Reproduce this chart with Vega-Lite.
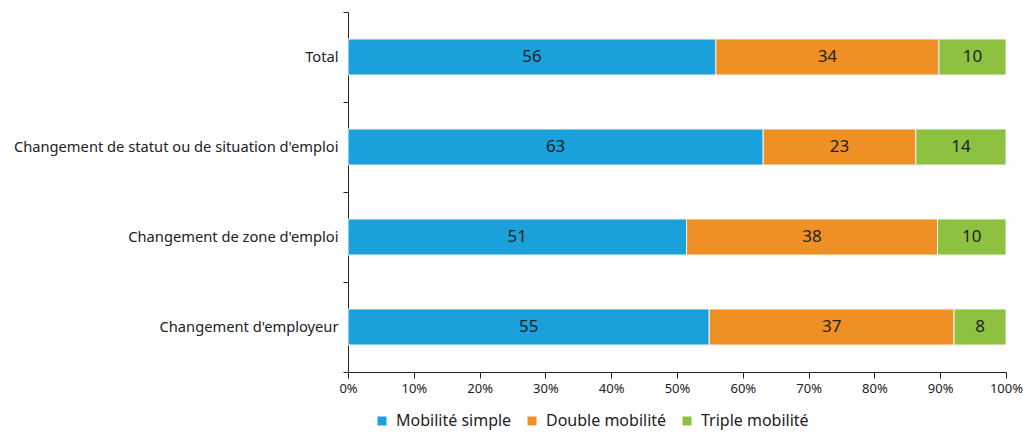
{
  "$schema": "https://vega.github.io/schema/vega-lite/v6.json",
  "autosize": {"type": "none"},
  "width": 658,
  "height": 360,
  "padding": {"left": 348, "top": 12, "right": 17, "bottom": 60},
  "background": "white",
  "config": {
    "view": {"stroke": null},
    "font": "Noto Sans",
    "axis": {"labelFont": "Noto Sans", "labelColor": "#222", "domainColor": "#222", "tickColor": "#222", "grid": false, "title": null},
    "legend": {"labelFont": "Noto Sans"}
  },
  "data": {
    "values": [
      {"cat": "Total", "type": "Mobilité simple", "ord": 1, "value": 55.9},
      {"cat": "Total", "type": "Double mobilité", "ord": 2, "value": 33.9},
      {"cat": "Total", "type": "Triple mobilité", "ord": 3, "value": 10.2},
      {"cat": "Changement de statut ou de situation d'emploi", "type": "Mobilité simple", "ord": 1, "value": 63.1},
      {"cat": "Changement de statut ou de situation d'emploi", "type": "Double mobilité", "ord": 2, "value": 23.2},
      {"cat": "Changement de statut ou de situation d'emploi", "type": "Triple mobilité", "ord": 3, "value": 13.7},
      {"cat": "Changement de zone d'emploi", "type": "Mobilité simple", "ord": 1, "value": 51.4},
      {"cat": "Changement de zone d'emploi", "type": "Double mobilité", "ord": 2, "value": 38.1},
      {"cat": "Changement de zone d'emploi", "type": "Triple mobilité", "ord": 3, "value": 10.4},
      {"cat": "Changement d'employeur", "type": "Mobilité simple", "ord": 1, "value": 54.9},
      {"cat": "Changement d'employeur", "type": "Double mobilité", "ord": 2, "value": 37.2},
      {"cat": "Changement d'employeur", "type": "Triple mobilité", "ord": 3, "value": 7.9}
    ]
  },
  "transform": [
    {"stack": "value", "groupby": ["cat"], "sort": [{"field": "ord", "order": "ascending"}], "offset": "normalize", "as": ["x0", "x1"]},
    {"calculate": "(datum.x0 + datum.x1) / 2", "as": "xm"}
  ],
  "encoding": {
    "y": {
      "field": "cat", "type": "nominal",
      "sort": ["Total", "Changement de statut ou de situation d'emploi", "Changement de zone d'emploi", "Changement d'employeur"],
      "scale": {"paddingInner": 0, "paddingOuter": 0},
      "axis": {"tickBand": "extent", "tickSize": 5, "labelFontSize": 14.7, "labelPadding": 5, "labelLimit": 400}
    }
  },
  "layer": [
    {
      "mark": {"type": "bar", "stroke": "#f4f4f4", "strokeWidth": 1, "height": {"band": 0.4}},
      "encoding": {
        "x": {"field": "x0", "type": "quantitative", "scale": {"domain": [0, 1]},
          "axis": {"format": ".0%", "values": [0, 0.1, 0.2, 0.3, 0.4, 0.5, 0.6, 0.7, 0.8, 0.9, 1], "tickSize": 6, "labelFontSize": 13, "labelPadding": 4, "labelFlush": false}},
        "x2": {"field": "x1"},
        "color": {
          "field": "type", "type": "nominal",
          "scale": {"domain": ["Mobilité simple", "Double mobilité", "Triple mobilité"], "range": ["#1aa1db", "#ee9024", "#8dc140"]},
          "legend": {"title": null, "orient": "none", "direction": "horizontal", "legendX": 26, "legendY": 401, "symbolType": "square", "symbolSize": 81, "symbolStrokeWidth": 0, "labelFontSize": 16, "labelColor": "#222", "labelOffset": 6, "columnPadding": 12}
        }
      }
    },
    {
      "mark": {"type": "text", "fontSize": 17, "color": "#222"},
      "encoding": {
        "x": {"field": "xm", "type": "quantitative"},
        "text": {"field": "value", "type": "quantitative", "format": ".0f"}
      }
    }
  ]
}
